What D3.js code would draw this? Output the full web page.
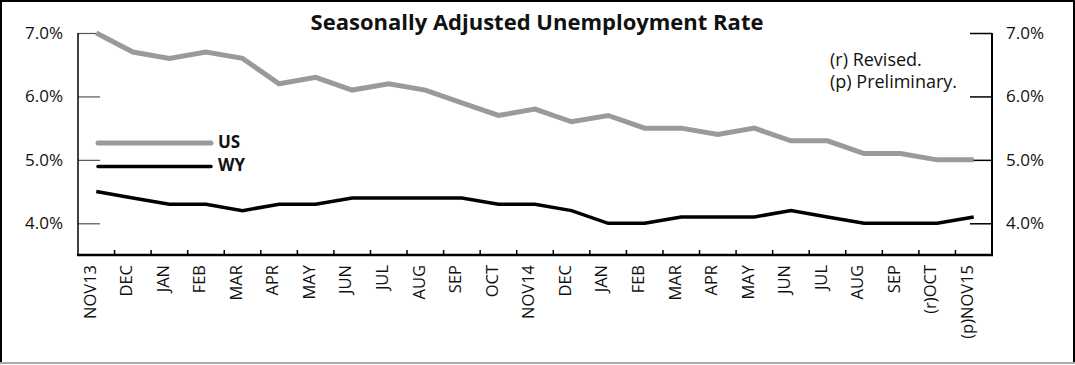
<!DOCTYPE html>
<html>
<head>
<meta charset="utf-8">
<script src="https://cdn.jsdelivr.net/npm/d3@7"></script>
<style>
html,body{margin:0;padding:0;background:#fff;}
svg{display:block;font-family:"Open Sans","Noto Sans",sans-serif;}
</style>
</head>
<body>
<svg id="chart" width="1075" height="365"></svg>
<script>
const categories = ["NOV13","DEC","JAN","FEB","MAR","APR","MAY","JUN","JUL","AUG","SEP","OCT","NOV14","DEC","JAN","FEB","MAR","APR","MAY","JUN","JUL","AUG","SEP","(r)OCT","(p)NOV15"];
const usValues = [7.0,6.7,6.6,6.7,6.6,6.2,6.3,6.1,6.2,6.1,5.9,5.7,5.8,5.6,5.7,5.5,5.5,5.4,5.5,5.3,5.3,5.1,5.1,5.0,5.0];
const wyValues = [4.5,4.4,4.3,4.3,4.2,4.3,4.3,4.4,4.4,4.4,4.4,4.3,4.3,4.2,4.0,4.0,4.1,4.1,4.1,4.2,4.1,4.0,4.0,4.0,4.1];
const yTicks = [4.0,5.0,6.0,7.0];
const title = "Seasonally Adjusted Unemployment Rate";
const notes = ["(r) Revised.","(p) Preliminary."];
const seriesNames = ["US","WY"];

(function(){
const svg = d3.select("#chart");
const W = 1075;
const mLeft = 78, mRight = 992, mTop = 33, mBottom = 255;

// frame
svg.append("line").attr("x1",0).attr("x2",W).attr("y1",363).attr("y2",363).attr("stroke","#aaa").attr("stroke-width",2);
svg.append("line").attr("x1",1).attr("x2",1).attr("y1",0).attr("y2",362).attr("stroke","#000").attr("stroke-width",2);
svg.append("line").attr("x1",1074).attr("x2",1074).attr("y1",0).attr("y2",362).attr("stroke","#000").attr("stroke-width",2);
svg.append("line").attr("x1",0).attr("x2",W).attr("y1",1).attr("y2",1).attr("stroke","#000").attr("stroke-width",2);

const idx = categories.map((d,i)=>i);
const x = d3.scaleBand().domain(idx).range([mLeft,mRight]).paddingInner(0).paddingOuter(0);
const y = d3.scaleLinear().domain([3.5,7.0]).range([mBottom,mTop]);
const cx = i => x(i) + x.bandwidth()/2;

// left axis
const gl = svg.append("g").attr("transform",`translate(${mLeft},0)`)
  .call(d3.axisLeft(y).tickValues(yTicks).tickSize(-22).tickFormat(d=>d.toFixed(1)+"%").tickPadding(15));
gl.select(".domain").remove();
gl.selectAll(".tick line").attr("stroke","#555").attr("stroke-width",1.2);
gl.selectAll(".tick text").attr("font-size",17).attr("fill","#111").attr("font-family","'Open Sans',sans-serif");
svg.append("line").attr("x1",mLeft).attr("x2",mLeft).attr("y1",mTop).attr("y2",mBottom).attr("stroke","#000").attr("stroke-width",1.5);

// right axis
const gr = svg.append("g").attr("transform",`translate(${mRight},0)`)
  .call(d3.axisRight(y).tickValues(yTicks).tickSize(-22).tickFormat(d=>d.toFixed(1)+"%").tickPadding(14));
gr.select(".domain").remove();
gr.selectAll(".tick line").attr("stroke","#000").attr("stroke-width",1.5);
gr.selectAll(".tick text").attr("font-size",17).attr("fill","#111").attr("font-family","'Open Sans',sans-serif");
svg.append("line").attr("x1",mRight).attr("x2",mRight).attr("y1",mTop).attr("y2",mBottom).attr("stroke","#000").attr("stroke-width",2);

// x axis
const xb = svg.append("g").attr("transform",`translate(0,${mBottom})`);
const boundaries = idx.slice(1).map(i=>x(i));
xb.selectAll("line.t").data(boundaries).join("line").attr("class","t")
  .attr("x1",d=>d).attr("x2",d=>d).attr("y1",0).attr("y2",-5).attr("stroke","#000").attr("stroke-width",1.5);
xb.append("line").attr("x1",mLeft-1).attr("x2",mRight+1).attr("y1",0).attr("y2",0).attr("stroke","#000").attr("stroke-width",2.5);
xb.selectAll("text.lbl").data(idx).join("text").attr("class","lbl")
  .attr("transform",i=>`translate(${cx(i)-6.5},10) rotate(-90)`)
  .attr("text-anchor","end").attr("dy","0.35em")
  .attr("font-size",16.5).attr("fill","#111")
  .text(i=>categories[i]);

// lines
const line = d3.line().x((d,i)=>cx(i)).y(d=>y(d)).curve(d3.curveLinear);
svg.append("path").datum(usValues).attr("d",line).attr("fill","none").attr("stroke","#9a9a9a").attr("stroke-width",5).attr("stroke-linejoin","miter");
svg.append("path").datum(wyValues).attr("d",line).attr("fill","none").attr("stroke","#000").attr("stroke-width",3.5).attr("stroke-linejoin","miter");

// legend
const legend = [{name:seriesNames[0],color:"#9a9a9a",w:5,y:143,b:148},{name:seriesNames[1],color:"#000",w:3.5,y:166.5,b:171}];
const lg = svg.append("g");
lg.selectAll("line").data(legend).join("line")
  .attr("x1",98).attr("x2",211).attr("y1",d=>d.y).attr("y2",d=>d.y)
  .attr("stroke",d=>d.color).attr("stroke-width",d=>d.w).attr("stroke-linecap","round");
lg.selectAll("text").data(legend).join("text")
  .attr("x",218).attr("y",d=>d.b)
  .attr("font-size",17).attr("font-weight","bold").attr("fill","#111").text(d=>d.name);

// notes
svg.append("g").selectAll("text").data(notes).join("text")
  .attr("x",830).attr("y",(d,i)=>66+i*22)
  .attr("font-size",18).attr("fill","#111").text(d=>d);

// title
svg.append("text").attr("x",537).attr("y",30).attr("text-anchor","middle")
  .attr("font-size",22).attr("font-weight","bold").attr("fill","#111").text(title);
})();
</script>
</body>
</html>
